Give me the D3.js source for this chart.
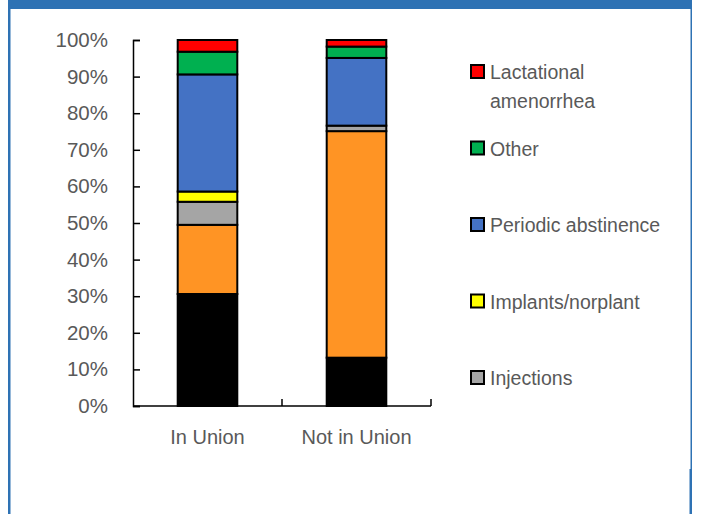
<!DOCTYPE html>
<meta charset="utf-8">
<body style="margin:0;background:#fff">
<div id="chart"></div>
<script src="https://cdn.jsdelivr.net/npm/d3@7"></script>
<script>
    // categories and stacked series (percent)
    var categories = ["In Union", "Not in Union"];
    // bottom to top; the black and orange series have no visible legend entry
    var seriesKeys = ["s1", "s2", "Injections", "Implants/norplant", "Periodic abstinence", "Other", "Lactational amenorrhea"];
    var seriesColors = ["#000000", "#FF9424", "#A5A5A5", "#FFFF00", "#4472C4", "#00B050", "#FF0000"];
    var inUnion =    [30.6, 18.9, 6.3, 2.8, 32.0, 6.2, 3.2];
    var notInUnion = [13.2, 61.9, 1.5, 0.0, 18.5, 3.1, 1.8];
    var yTicks = [0, 10, 20, 30, 40, 50, 60, 70, 80, 90, 100];
    // legend entries, top to bottom (lines of text)
    var legendItems = [
        {key: "Lactational amenorrhea", lines: ["Lactational", "amenorrhea"]},
        {key: "Other", lines: ["Other"]},
        {key: "Periodic abstinence", lines: ["Periodic abstinence"]},
        {key: "Implants/norplant", lines: ["Implants/norplant"]},
        {key: "Injections", lines: ["Injections"]}
    ];

    var W = 701, H = 514;
    var margin = {top: 40, left: 133, right: 270, bottom: 108};
    var width = W - margin.left - margin.right,
        height = H - margin.top - margin.bottom;
    var font = "'Liberation Sans', Arial, sans-serif";
    var textCol = "#595959";

    var svg = d3.select("#chart").append("svg")
        .attr("width", W).attr("height", H);

    // frame: blue band on top and side borders
    svg.append("rect").attr("x", 8).attr("y", 0).attr("width", 683).attr("height", 9).attr("fill", "#2E72B4");
    svg.append("rect").attr("x", 8).attr("y", 0).attr("width", 2.5).attr("height", H).attr("fill", "#2E72B4");
    svg.append("rect").attr("x", 690.5).attr("y", 0).attr("width", 1.5).attr("height", 469).attr("fill", "#2E72B4");
    svg.append("rect").attr("x", 689.5).attr("y", 469).attr("width", 2.5).attr("height", H - 469).attr("fill", "#2E72B4");

    var g = svg.append("g").attr("transform", "translate(" + margin.left + "," + margin.top + ")");

    var data = categories.map(function(c, i) {
        var row = {cat: c};
        var vals = i === 0 ? inUnion : notInUnion;
        seriesKeys.forEach(function(k, j) { row[k] = vals[j]; });
        return row;
    });

    var stack = d3.stack().keys(seriesKeys)(data);

    var x = d3.scaleBand().domain(categories).range([0, width]).paddingInner(0.6).paddingOuter(0.3);
    var xb = d3.scaleBand().domain(categories).range([0, width]);
    var y = d3.scaleLinear().domain([0, 100]).range([height, 0]);

    var color = d3.scaleOrdinal().domain(seriesKeys).range(seriesColors);

    // bars
    g.selectAll("g.layer").data(stack).enter().append("g")
        .attr("class", "layer")
        .attr("fill", function(d) { return color(d.key); })
      .selectAll("rect").data(function(d) { return d; }).enter().append("rect")
        .filter(function(d) { return d[1] - d[0] > 0; })
        .attr("x", function(d) { return x(d.data.cat); })
        .attr("y", function(d) { return y(d[1]); })
        .attr("width", x.bandwidth())
        .attr("height", function(d) { return y(d[0]) - y(d[1]); })
        .attr("stroke", "#000")
        .attr("stroke-width", 2);

    // y axis, ticks pointing inward
    var yAxis = g.append("g")
        .call(d3.axisLeft(y).tickValues(yTicks).tickSize(-7).tickPadding(25)
            .tickFormat(function(d) { return d + "%"; }));
    yAxis.select(".domain").attr("stroke", "#000").attr("stroke-width", 1.5);
    yAxis.selectAll(".tick line").attr("stroke", "#000").attr("stroke-width", 1.5);
    yAxis.selectAll("text").attr("fill", textCol).style("font-family", font).style("font-size", "20.5px");

    // x axis with boundary ticks between categories
    var xAxis = g.append("g").attr("transform", "translate(0," + height + ")");
    xAxis.append("line").attr("x1", 0).attr("x2", width).attr("stroke", "#000").attr("stroke-width", 1.5);
    xAxis.selectAll("line.sep").data(categories).enter().append("line")
        .attr("class", "sep")
        .attr("x1", function(d) { return xb(d) + xb.bandwidth(); })
        .attr("x2", function(d) { return xb(d) + xb.bandwidth(); })
        .attr("y1", 0).attr("y2", -7)
        .attr("stroke", "#000").attr("stroke-width", 1.5);
    xAxis.selectAll("text").data(categories).enter().append("text")
        .attr("x", function(d) { return xb(d) + xb.bandwidth() / 2; })
        .attr("y", 38)
        .attr("text-anchor", "middle")
        .attr("fill", textCol)
        .style("font-family", font).style("font-size", "20px")
        .text(function(d) { return d; });

    // legend
    var legend = svg.append("g").attr("transform", "translate(470,64)");
    var item = legend.selectAll("g").data(legendItems).enter().append("g")
        .attr("transform", function(d, i) { return "translate(0," + (i * 76.5) + ")"; });
    item.append("rect")
        .attr("x", 1).attr("y", 1).attr("width", 13).attr("height", 13)
        .attr("fill", function(d) { return color(d.key); })
        .attr("stroke", "#000").attr("stroke-width", 2);
    item.append("text")
        .attr("x", 20).attr("y", 15)
        .attr("fill", textCol)
        .style("font-family", font).style("font-size", "19.5px")
        .selectAll("tspan").data(function(d) { return d.lines; }).enter().append("tspan")
        .attr("x", 20)
        .attr("dy", function(d, i) { return i === 0 ? 0 : 29; })
        .text(function(d) { return d; });
</script>
</body>
